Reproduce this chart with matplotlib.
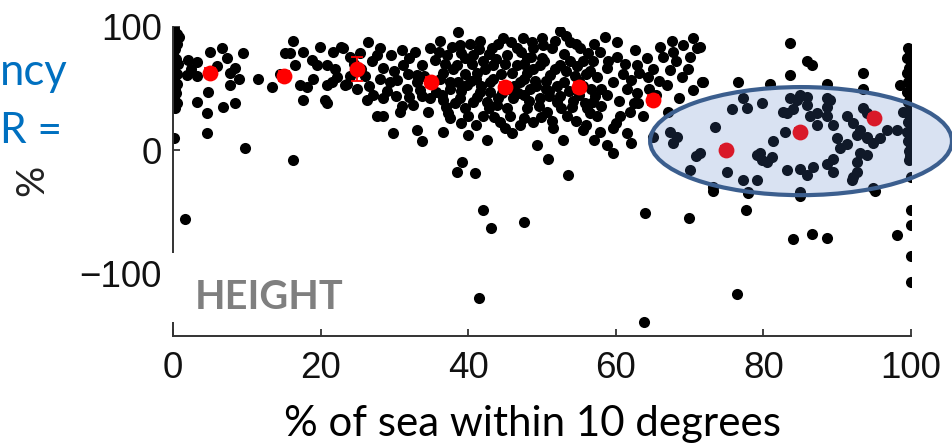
import matplotlib
matplotlib.use("Agg")
import matplotlib.pyplot as plt
from matplotlib.patches import Ellipse, Rectangle

plt.rcParams["font.family"] = ["Liberation Sans", "DejaVu Sans"]

# ---------------- data ----------------
xticks = [0, 20, 40, 60, 80, 100]
yticks = [100, 0, -100]
ytick_labels = ["100", "0", "\u2212100"]

bin_centers = [5, 15, 25, 35, 45, 55, 65, 75, 85, 95]
bin_means = [63, 60, 66, 55, 51, 51, 41, 0, 15, 26]
bin_errs = [4, 4, 10, 4, 4, 4, 4, 3, 3, 3]

left_col_x = [0.2, 0.5, 0.1, 0.6, 0.3, 0.0, 0.4, 0.7, 0.2, 0.5, 0.1, 0.6, 0.3, 0.4, 0.2, 0.6, 0.3, 0.8, 0.1]
left_col_y = [98, 94, 90, 86, 82, 78, 74, 70, 66, 62, 58, 54, 50, 46, 42, 38, 34, 92, 10]

cloud_a_x = [2.0, 3.2, 1.9, 3.3, 5.0, 6.6, 7.3, 8.4, 7.7, 7.7, 9.5, 4.8, 3.2, 4.6, 6.8, 8.4, 4.6, 9.8,
             6.0, 2.5, 8.9, 11.5, 13.4, 16.3, 17.6, 15.9, 16.5, 17.2, 17.6, 19.0, 19.9, 19.5, 20.8,
             20.8, 20.8, 21.7, 22.2, 16.3, 15.2, 18.1, 20.6, 21.5, 23.6, 22.8, 14.5, 18.8]
cloud_a_y = [73, 71.5, 61, 60, 80, 83, 75, 67, 63, 53, 79, 47, 39, 30, 35, 38, 14, 2,
             68, 66, 58, 58, 51, 89, 80, 79, 69, 53, 41, 58, 84, 69, 69,
             53, 38, 80, 59, -8, 79, 51, 41, 55, 54, 84, 62, 73]

cloud_b_x = [23.0, 23.3, 26.4, 25.3, 27.6, 28.5, 29.4, 27.1, 28.5, 27.6, 28.5, 31.0, 31.2, 30.4, 31.7,
             30.8, 29.8, 33.1, 33.7, 32.5, 34.8, 33.7, 33.5, 34.6, 36.2, 37.1, 36.6, 36.6, 36.6, 37.5,
             38.6, 38.9, 38.5, 38.6, 38.9, 40.0, 40.0, 41.6, 40.7, 41.2, 41.6, 42.0, 42.5, 43.2, 43.4,
             43.0, 43.9, 44.7, 45.3, 46.6, 46.6, 47.0, 46.1, 45.7, 47.0, 45.9, 39.2, 38.5, 40.9, 33.1,
             35.2, 35.7, 39.8, 40.7, 42.5, 44.3, 37.5, 34.8, 26.3, 24.5, 26.0, 32.0, 35.5, 39.5, 42.0,
             44.5, 41.0, 37.0, 43.0, 45.5, 48.0]
cloud_b_y = [83, 53, 88, 79, 77, 67, 55, 45, 42, 28, 28, 81, 69, 57, 50,
             31, 14, 16, 7, 37, 83, 69, 49, 31, 89, 77, 63, 41, 15, 26,
             96, 85, 69, 55, 42, 28, 12, 89, 77, 63, 47, 28, 8, 83, 69,
             55, 37, 91, 77, 83, 69, 55, 42, 28, 20, 14, -10, -18, -19, 61,
             55, 47, 53, 39, 39, 23, 55, 42, 41, 70, 60, 75, 73, 75, 72,
             62, 58, 35, 47, 50, 75]

cloud_c_x = [52.4, 47.4, 48.8, 50.1, 51.4, 53.8, 55.1, 55.6, 53.8, 52.4, 51.1, 49.7, 48.0, 48.4, 49.7,
             48.0, 48.8, 50.7, 52.0, 53.4, 51.5, 52.8, 49.3, 50.8, 53.5, 57.9, 56.9, 58.8, 57.5, 59.6,
             58.8, 56.9, 57.5, 57.9, 58.8, 59.6, 56.1, 60.2, 60.2, 59.6, 60.6, 61.9, 62.6, 62.9, 64.2,
             64.4, 62.9, 63.7, 66.4, 67.3, 66.9, 67.1, 67.6, 69.1, 70.5, 70.1, 69.0, 70.5, 71.7, 71.0,
             50.5, 53.0, 55.0, 54.5, 61.0, 60.5, 63.0, 65.5, 68.5, 47.5, 49.0, 51.0, 52.5, 54.0, 55.5,
             56.5, 58.0, 48.5, 50.0, 53.0]
cloud_c_y = [97, 91, 83, 85, 83, 88, 83, 72, 72, 69, 61, 69, 63, 50, 42,
             34, 23, 31, 39, 28, 18, 8, 4, -7, -20, 80, 72, 67, 59, 55,
             45, 39, 28, 15, 4, -2, 34, 88, 76, 18, 28, 31, 81, 69, 75,
             59, 46, 28, 76, 65, 53, 31, 89, 85, 91, 76, 59, 49, 55, 83,
             50, 55, 45, 60, 62, 40, 38, 45, 42, 45, 56, 48, 44, 35, 52,
             64, 50, 76, 75, 78]

cloud_d_x = [36.0, 37.8, 39.0, 40.2, 41.5, 42.8, 44.0, 45.8, 47.2, 48.6, 50.0, 51.8, 53.2, 54.6, 56.2,
             36.8, 38.0, 39.5, 40.5, 42.3, 43.8, 45.0, 46.0, 47.5, 48.8, 50.3, 51.8, 53.3, 54.8, 56.0,
             36.2, 37.6, 39.0, 40.4, 41.8, 43.3, 44.6, 46.2, 47.6, 49.2, 50.6, 52.0, 53.6, 55.0, 56.6,
             36.5, 38.2, 39.6, 41.2, 42.8, 44.0, 45.3, 46.8, 48.2, 49.6, 51.0, 52.6, 54.2, 55.8, 57.2,
             37.2, 39.0, 41.0, 43.5, 45.0, 47.6, 49.8, 51.4, 54.6, 56.0,
             24.0, 25.5, 27.0, 28.0, 29.5, 30.0, 31.8, 32.8, 33.0, 34.0, 29.0, 30.2, 32.0, 33.8, 31.0,
             25.0, 26.5, 28.0, 24.0, 22.0,
             57.0, 58.5, 59.0, 61.2, 62.0, 63.2, 65.0, 65.8, 64.5, 61.5, 58.0, 60.0, 61.5, 62.5, 66.0,
             68.2, 67.8, 69.8, 56.5, 55.5, 62.0, 57.0]
cloud_d_y = [80, 84, 79, 86, 82, 78, 86, 88, 80, 88, 91, 89, 93, 86, 79,
             70, 66, 62, 70, 66, 74, 70, 63, 70, 66, 72, 66, 64, 68, 62,
             58, 50, 48, 56, 52, 58, 46, 52, 58, 52, 56, 52, 48, 56, 50,
             45, 38, 34, 43, 34, 42, 34, 46, 40, 36, 44, 34, 40, 38, 44,
             30, 22, 20, 27, 18, 26, 27, 24, 24, 20,
             76, 66, 72, 83, 77, 64, 62, 80, 55, 60, 48, 44, 43, 44, 36,
             50, 52, 58, 60, 66,
             86, 92, 72, 70, 57, 63, 66, 56, 50, 50, 36, 22, 14, 38, 84,
             72, 80, 66, 30, 16, 6, 8]

right_x = [75.7, 73.4, 71.4, 77.8, 79.8, 77.2, 81.3, 79.1, 80.5, 81.2, 75.1, 77.2, 79.1, 73.2, 77.9,
           82.7, 83.6, 85.0, 85.9, 86.3, 82.9, 87.2, 88.6, 89.4, 90.0, 90.4, 88.6, 91.3, 92.7, 94.0,
           93.5, 95.8, 96.7, 98.1, 94.0, 92.7, 92.7, 92.0, 83.2, 85.0, 86.7, 88.6, 89.4, 89.4, 85.9,
           79.5, 98.9, 94.9, 85.0, 65.0, 67.3, 68.3, 67.8, 70.8, 70.1, 84.0, 83.2, 84.5, 85.9, 87.3,
           91.3, 92.1, 93.1, 94.0, 94.9, 93.1, 92.1, 89.0, 88.6, 94.0, 79.8,
           71.4, 71.8, 83.6, 85.9, 86.6, 83.6, 76.6, 80.9, 88.6, 93.5, 93.5, 98.5]
right_y = [33, 19, -2, 34, 38, 42, 7, -4, -10, -6, -18, -24, -24, -30, -34,
           31, 42, 45, 37, 28, 15, 20, 28, 20, 10, 2, 42, 28, 12, 10,
           34, 10, 16, 16, -4, -10, -18, -24, -16, -15, -14, -11, -7, -18, -20,
           -2, 31, -31, -34, 11, 15, 11, 6, -5, -16, 33, 30, 41, 43, 30,
           5, 22, 16, 11, 6, -2, -22, 41, 35, 30, -8,
           84, 55, 87, 72, 69, 61, 55, 54, 54, 63, 50, 53]

right_col_x = [99.6, 99.9, 99.4, 100.0, 99.7, 99.5, 99.9, 99.6, 100.0, 99.4, 99.8, 99.6, 100.0, 99.5,
               99.8, 99.6, 100.0, 99.5, 99.8, 99.6, 100.0, 99.7, 99.9, 99.7, 100.0, 100.0, 100.0, 100.0]
right_col_y = [83, 79, 75, 71, 67, 63, 59, 55, 51, 47, 43, 39, 35, 31,
               27, 23, 19, 15, 11, 7, 3, -1, -5, -8, -22, -49, -61, -86]

outlier_x = [73.2, 77.9, 85.0, 95.1, 64.0, 69.9, 77.6, 84.0, 86.6, 88.6, 98.1, 76.4, 63.8, 41.5,
             42.0, 43.1, 47.6, 1.6, 100.0]
outlier_y = [-33, -35, -37, -33, -51, -55, -49, -72, -68, -71, -69, -117, -140, -120,
             -49, -63, -58, -56, -107]

xs = left_col_x + cloud_a_x + cloud_b_x + cloud_c_x + cloud_d_x + right_x + right_col_x + outlier_x
ys = left_col_y + cloud_a_y + cloud_b_y + cloud_c_y + cloud_d_y + right_y + right_col_y + outlier_y

# ---------------- figure ----------------
W, H = 953, 445
fig = plt.figure(figsize=(W / 100, H / 100), dpi=100)
fig.patch.set_facecolor("white")

ax_l, ax_r, ax_t, ax_b = 173, 911, 27, 336
ax = fig.add_axes([ax_l / W, 1 - ax_b / H, (ax_r - ax_l) / W, (ax_b - ax_t) / H])
ax.set_xlim(0, 100)
ax.set_ylim(-151, 100)

ax.scatter(xs, ys, s=64, color="black", linewidths=0, zorder=2)
ax.errorbar(bin_centers, bin_means, yerr=bin_errs, fmt="none", ecolor="#FF0000",
            elinewidth=1.3, capsize=4.5, capthick=1.3, zorder=3)
ax.scatter(bin_centers, bin_means, s=130, color="#FF0000", linewidths=0, zorder=4)

ell = Ellipse((85.1, 7.3), 40.9, 87.8, facecolor=(0.31, 0.47, 0.76, 0.21),
              edgecolor="#3B5E8E", linewidth=3.0, zorder=5, clip_on=False)
ax.add_patch(ell)

for s in ["top", "right"]:
    ax.spines[s].set_visible(False)
for s in ["left", "bottom"]:
    ax.spines[s].set_color("#333333")
    ax.spines[s].set_linewidth(1.4)

ax.set_xticks(xticks)
ax.set_xticklabels([str(v) for v in xticks])
ax.set_yticks(yticks)
ax.set_yticklabels(ytick_labels)
ax.tick_params(direction="in", length=5, width=1.3, color="#333333",
               labelsize=26.5, labelcolor="#111111")
ax.tick_params(axis="x", pad=11)
ax.tick_params(axis="y", pad=8)

# white box covering lower part of left spine + label
fig.add_artist(Rectangle((167 / W, 1 - 322 / H), (352 - 167) / W, (322 - 253) / H,
                         transform=fig.transFigure, facecolor="white", edgecolor="none", zorder=10))

t_height = fig.text(195 / W, 1 - 309 / H, "HEIGHT", color="#7F7F7F", fontweight="bold",
                    family=["Lato", "DejaVu Sans"], fontsize=30, ha="left", va="baseline", zorder=11)
t_xlab = fig.text(533 / W, 1 - 436 / H, "% of sea within 10 degrees", color="black",
                  family=["Lato", "DejaVu Sans"], fontsize=32, ha="center", va="baseline")
t_ncy = fig.text(68 / W, 1 - 85 / H, "ncy", color="#0070C0",
                 family=["Lato", "DejaVu Sans"], fontsize=34, ha="right", va="baseline")
t_r = fig.text(62 / W, 1 - 143 / H, "R =", color="#0070C0",
               family=["Lato", "DejaVu Sans"], fontsize=28, ha="right", va="baseline")
t_pct = fig.text(32 / W, 1 - 180 / H, "%", color="#222222", rotation=90,
                 family=["Lato", "DejaVu Sans"], fontsize=28, ha="center", va="center")

# fit text widths to the reference
fig.canvas.draw()
r = fig.canvas.get_renderer()
for t, target in [(t_height, 148), (t_xlab, 497), (t_ncy, 68), (t_r, 62)]:
    w = t.get_window_extent(r).width
    t.set_fontsize(t.get_fontsize() * target / w)

fig.savefig("out.png", dpi=100, facecolor="white")
